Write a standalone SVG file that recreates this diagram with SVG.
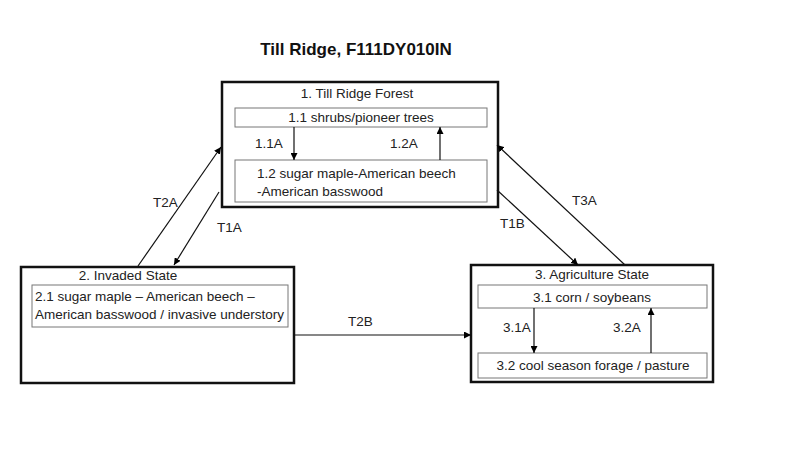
<svg xmlns="http://www.w3.org/2000/svg" width="800" height="450" viewBox="0 0 800 450">
<defs>
<marker id="ah" viewBox="0 0 10 10" refX="10" refY="5" markerWidth="7" markerHeight="7" markerUnits="userSpaceOnUse" orient="auto">
<path d="M0,0 L10,5 L0,10 Z" fill="#000"/>
</marker>
</defs>
<style>
text{font-family:"Liberation Sans",Arial,sans-serif;font-size:13.5px;fill:#222}
.title{font-size:17px;font-weight:bold;fill:#111}
.state{fill:#fff;stroke:#111;stroke-width:2.5}
.comm{fill:#fff;stroke:#777;stroke-width:1}
.c{stroke:#111;stroke-width:1.2;fill:none;marker-end:url(#ah)}
.m{text-anchor:middle}
</style>
<rect width="800" height="450" fill="#fff"/>
<text class="title m" x="356" y="55">Till Ridge, F111DY010IN</text>

<g id="state1">
<rect class="state" x="222" y="82" width="276" height="125"/>
<text class="m" x="357" y="98">1. Till Ridge Forest</text>
<g id="comm11"><rect class="comm" x="235" y="108" width="252" height="19"/>
<text class="m" x="361" y="122">1.1 shrubs/pioneer trees</text></g>
<g id="comm12"><rect class="comm" x="235" y="160" width="252" height="42"/>
<text x="257" y="178">1.2 sugar maple-American beech</text>
<text x="257" y="196">-American basswood</text></g>
</g>

<g id="state2">
<rect class="state" x="21" y="267" width="273" height="116"/>
<text class="m" x="128" y="280">2. Invaded State</text>
<g id="comm21"><rect class="comm" x="32" y="285" width="256" height="42"/>
<text x="35" y="301">2.1 sugar maple – American beech –</text>
<text x="35" y="319">American basswood / invasive understory</text></g>
</g>

<g id="state3">
<rect class="state" x="471" y="265" width="242" height="117"/>
<text class="m" x="592" y="279">3. Agriculture State</text>
<g id="comm31"><rect class="comm" x="478" y="285" width="229" height="23"/>
<text class="m" x="592" y="302">3.1 corn / soybeans</text></g>
<g id="comm32"><rect class="comm" x="478" y="353" width="229" height="25"/>
<text class="m" x="593" y="370">3.2 cool season forage / pasture</text></g>
</g>

<g id="connectors">
<line class="c" x1="294" y1="127" x2="294" y2="160"/>
<line class="c" x1="440" y1="160" x2="440" y2="127"/>
<line class="c" x1="534" y1="308" x2="534" y2="353"/>
<line class="c" x1="651" y1="353" x2="651" y2="308"/>
<line class="c" x1="138" y1="266" x2="221" y2="147"/>
<line class="c" x1="219" y1="192" x2="174" y2="265"/>
<line class="c" x1="625" y1="265" x2="497" y2="145"/>
<line class="c" x1="497" y1="190" x2="578" y2="265"/>
<line class="c" x1="295" y1="335" x2="471" y2="335"/>
</g>

<g id="labels">
<text x="255" y="148">1.1A</text>
<text x="390" y="148">1.2A</text>
<text x="503" y="332">3.1A</text>
<text x="613" y="332">3.2A</text>
<text x="153" y="207">T2A</text>
<text x="217" y="232">T1A</text>
<text x="572" y="205">T3A</text>
<text x="500" y="228">T1B</text>
<text x="348" y="326">T2B</text>
</g>
</svg>
